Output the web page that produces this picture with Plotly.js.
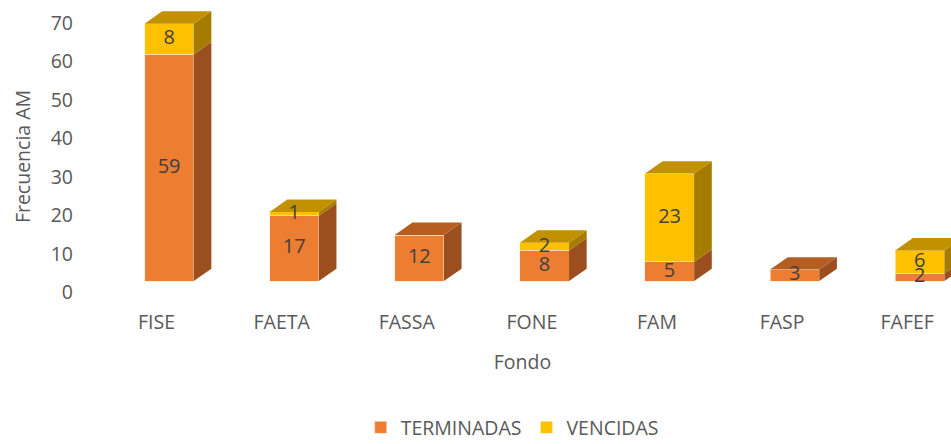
<!DOCTYPE html>
<html>
<head>
<meta charset="utf-8">
<script src="https://cdn.plot.ly/plotly-3.0.1.min.js"></script>
<style>html,body{margin:0;padding:0;background:#fff;}#chart{width:951px;height:444px;}</style>
</head>
<body>
<div id="chart"></div>
<script>
const categories = ['FISE', 'FAETA', 'FASSA', 'FONE', 'FAM', 'FASP', 'FAFEF'];
const terminadas = [59, 17, 12, 8, 5, 3, 2];
const vencidas = [8, 1, 0, 2, 23, 0, 6];
const seriesNames = ['TERMINADAS', 'VENCIDAS'];
const yTicks = [0, 10, 20, 30, 40, 50, 60, 70];

// geometry of the pseudo-3D look (styles, not data)
const OFF = -0.096, W = 0.393, DX = 0.141, DY = 3.23;
const C = {
  orange: '#ED7D31', orangeSide: '#9C4F1E', orangeTop: '#B65D22',
  yellow: '#FFC000', yellowSide: '#A57C00', yellowTop: '#C29100'
};
const FONT = 'Open Sans, sans-serif';
const xs = categories.map((_, i) => i);

function sidePolys(bases, tops) {
  const x = [], y = [];
  xs.forEach(i => {
    if (tops[i] <= bases[i]) return;
    const xr = i + OFF + W;
    x.push(xr, xr, xr + DX, xr + DX, null);
    y.push(bases[i], tops[i], tops[i] + DY, bases[i] + DY, null);
  });
  return {x, y};
}
function topPolys(filterFn) {
  const x = [], y = [];
  xs.forEach(i => {
    if (!filterFn(i)) return;
    const T = terminadas[i] + vencidas[i];
    const xl = i + OFF, xr = i + OFF + W;
    x.push(xl, xr, xr + DX, xl + DX, null);
    y.push(T, T, T + DY, T + DY, null);
  });
  return {x, y};
}
function polyTrace(p, color) {
  return {type: 'scatter', mode: 'lines', x: p.x, y: p.y, fill: 'toself', fillcolor: color,
    line: {width: 0, color: color}, hoverinfo: 'skip', showlegend: false};
}

const zeros = xs.map(() => 0);
const totals = xs.map(i => terminadas[i] + vencidas[i]);

const traces = [
  {type: 'bar', name: seriesNames[0], x: xs, y: terminadas, offset: OFF, width: W,
   marker: {color: C.orange, line: {color: 'rgba(255,235,215,0.6)', width: 1}}},
  {type: 'bar', name: seriesNames[1], x: xs, y: vencidas, offset: OFF, width: W,
   marker: {color: C.yellow, line: {color: 'rgba(255,240,200,0.6)', width: 1}}},
  polyTrace(sidePolys(zeros, terminadas), C.orangeSide),
  polyTrace(sidePolys(terminadas, totals), C.yellowSide),
  polyTrace(topPolys(i => vencidas[i] === 0), C.orangeTop),
  polyTrace(topPolys(i => vencidas[i] > 0), C.yellowTop),
  {type: 'scatter', mode: 'text', x: xs.map(i => i + OFF + W / 2), y: terminadas.map(v => v / 2),
   text: terminadas.map(v => v ? String(v) : ''), textposition: 'middle center',
   textfont: {family: FONT, size: 20, color: '#404040'}, hoverinfo: 'skip', showlegend: false},
  {type: 'scatter', mode: 'text', x: xs.map(i => i + OFF + W / 2), y: xs.map(i => terminadas[i] + vencidas[i] / 2),
   text: vencidas.map(v => v ? String(v) : ''), textposition: 'middle center',
   textfont: {family: FONT, size: 20, color: '#404040'}, hoverinfo: 'skip', showlegend: false}
];

const layout = {
  width: 951, height: 444,
  margin: {l: 94, r: 0, t: 5, b: 136.12, autoexpand: false},
  paper_bgcolor: '#fff', plot_bgcolor: '#fff',
  barmode: 'stack',
  font: {family: FONT, size: 19.5, color: '#595959'},
  xaxis: {type: 'linear', range: [-0.5, 6.35], tickvals: xs, ticktext: categories,
    showgrid: false, zeroline: false, showline: false, ticks: '',
    tickfont: {family: FONT, size: 19.5, color: '#595959'},
    ticklabelstandoff: 0,
    title: {text: 'Fondo', font: {family: FONT, size: 19.5, color: '#595959'}, standoff: 21},
    automargin: false, fixedrange: true},
  yaxis: {range: [-7, 71.875], tickvals: yTicks, showgrid: false, zeroline: false, showline: false,
    ticks: '', tickfont: {family: FONT, size: 19.5, color: '#595959'},
    ticklabelshift: 11, ticklabelstandoff: 20,
    title: {text: 'Frecuencia AM', font: {family: FONT, size: 19.5, color: '#595959'}, standoff: 14},
    automargin: false, fixedrange: true},
  legend: {orientation: 'h', x: 0.488, xanchor: 'center', y: -0.395, yanchor: 'middle',
    font: {family: FONT, size: 19.5, color: '#595959'}, traceorder: 'normal'},
  showlegend: true
};

Plotly.newPlot('chart', traces, layout, {displayModeBar: false, staticPlot: true});
</script>
</body>
</html>
